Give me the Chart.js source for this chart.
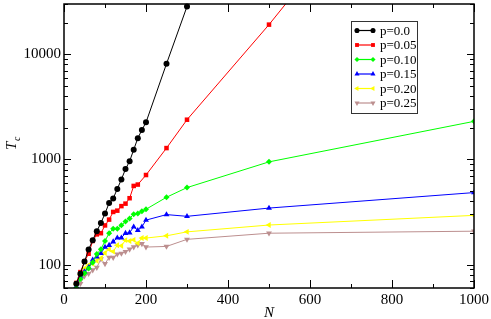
<!DOCTYPE html>
<html>
<head>
<meta charset="utf-8">
<script src="https://cdn.jsdelivr.net/npm/chart.js@4/dist/chart.umd.min.js"></script>
<style>
  html, body { margin: 0; padding: 0; background: #fff; }
  #wrap { width: 491px; height: 319px; position: relative; }
</style>
</head>
<body>
<div id="wrap"><canvas id="chart"></canvas></div>
<script>
// Data
const nShort = [30, 40, 50, 60, 70, 80, 90, 100, 110, 120, 130, 140, 150, 160, 170, 180, 190, 200, 250, 300]
const nRed = [30, 40, 50, 60, 70, 80, 90, 100, 110, 120, 130, 140, 150, 160, 170, 180, 200, 250, 300, 500, 1000]
const nLong = [30, 40, 50, 60, 70, 80, 90, 100, 110, 120, 130, 140, 150, 160, 170, 180, 190, 200, 250, 300, 500, 1000]
const nBrown = [40, 50, 60, 70, 80, 90, 100, 110, 120, 130, 140, 150, 160, 170, 180, 190, 200, 250, 300, 500, 1000]

const tP00 = [66, 82, 107, 139, 171, 208, 249, 306, 385, 426, 525, 646, 809, 961, 1236, 1592, 1905, 2250, 8110, 28400]
const tP05 = [67, 85, 107, 127, 168, 194, 199, 236, 268, 317, 326, 360, 380, 428, 560, 577, 711, 1282, 2385, 19100, 5000000]
const tP10 = [60, 73, 83, 92, 105, 126, 140, 168, 199, 219, 219, 237, 257, 274, 302, 306, 321, 336, 437, 540, 948, 2300]
const tP15 = [62, 78, 86, 94, 111, 119, 128, 147, 153, 165, 180, 180, 199, 201, 229, 212, 229, 265, 299, 288, 345, 484]
const tP20 = [65, 80, 92, 99, 102, 109, 115, 129, 140, 133, 153, 151, 171, 168, 172, 160, 179, 179, 188, 205, 238, 294]
const tP25 = [66, 78, 82, 89, 94, 113, 102, 117, 117, 126, 128, 133, 140, 147, 153, 158, 147, 149, 174, 199, 208]

const seriesLabels = ['p=0.0', 'p=0.05', 'p=0.10', 'p=0.15', 'p=0.20', 'p=0.25']
const seriesColors = ['#000000', '#ff0000', '#00ff00', '#0000ff', '#ffff00', '#bc8f8f']

const xTicks = [0, 200, 400, 600, 800, 1000]
const yTicks = [100, 1000, 10000]

const SERIF = '"Liberation Serif", "DejaVu Serif", serif'

function pts(xs, ys) {
    return xs.map((x, i) => ({ x: x, y: ys[i] }))
}

function makeSet(i, data, style, size, rot, extra) {
    return Object.assign({
        label: seriesLabels[i],
        data: data,
        borderColor: seriesColors[i],
        backgroundColor: seriesColors[i],
        borderWidth: 1,
        pointStyle: style,
        pointRadius: size,
        pointRotation: rot,
        pointBorderWidth: 0,
        tension: 0
    }, extra || {})
}

const datasets = [
    makeSet(0, pts(nShort, tP00), 'circle', 3, 0, { clip: 6 }),
    makeSet(1, pts(nRed, tP05), 'rect', 3.2, 0),
    makeSet(2, pts(nLong, tP10), 'rectRot', 3, 0),
    makeSet(3, pts(nLong, tP15), 'triangle', 3.4, 0),
    makeSet(4, pts(nLong, tP20), 'triangle', 3.4, -90),
    makeSet(5, pts(nBrown, tP25), 'triangle', 3.4, 180)
]

// Inward ticks on all four sides, axis titles and boxed legend
const framePlugin = {
    id: 'frame',
    afterDatasetsDraw(chart) {
        const ctx = chart.ctx
        const a = chart.chartArea
        const xs = chart.scales.x
        const ys = chart.scales.y
        ctx.save()
        ctx.strokeStyle = '#000'
        ctx.lineWidth = 1

        // x ticks
        for (let v = 0; v <= 1000; v += 100) {
            const px = Math.round(xs.getPixelForValue(v)) + 0.5
            const len = v % 200 === 0 ? 8 : 4
            ctx.beginPath()
            ctx.moveTo(px, a.bottom); ctx.lineTo(px, a.bottom - len)
            ctx.moveTo(px, a.top); ctx.lineTo(px, a.top + len)
            ctx.stroke()
        }
        // y ticks (log)
        for (let dec = 10; dec <= 100000; dec *= 10) {
            for (let m = 1; m < 10; m++) {
                const v = dec * m
                if (v < ys.min || v > ys.max) continue
                const py = Math.round(ys.getPixelForValue(v)) + 0.5
                const len = m === 1 ? 7 : 4
                ctx.beginPath()
                ctx.moveTo(a.left, py); ctx.lineTo(a.left + len, py)
                ctx.moveTo(a.right, py); ctx.lineTo(a.right - len, py)
                ctx.stroke()
            }
        }
        // frame
        ctx.lineWidth = 1.5
        ctx.strokeRect(a.left, a.top, a.right - a.left, a.bottom - a.top)

        // axis titles
        ctx.fillStyle = '#000'
        ctx.font = 'italic 15px ' + SERIF
        ctx.textAlign = 'center'
        ctx.textBaseline = 'alphabetic'
        ctx.fillText('N', (a.left + a.right) / 2, 317)

        ctx.translate(16, 150)
        ctx.rotate(-Math.PI / 2)
        ctx.textAlign = 'left'
        ctx.fillText('T', 0, 0)
        ctx.font = 'italic 10px ' + SERIF
        ctx.fillText('c', 9, 4)
        ctx.restore()

        // legend
        ctx.save()
        const bx = 351, by = 21, bw = 66, bh = 92
        ctx.fillStyle = '#fff'
        ctx.fillRect(bx, by, bw, bh)
        ctx.strokeStyle = '#333'
        ctx.lineWidth = 1
        ctx.strokeRect(bx + 0.5, by + 0.5, bw, bh)
        ctx.font = '13px ' + SERIF
        ctx.textBaseline = 'middle'
        ctx.textAlign = 'left'
        chart.data.datasets.forEach((ds, i) => {
            const y = 30.5 + i * 14.5
            ctx.strokeStyle = ds.borderColor
            ctx.lineWidth = 1.2
            ctx.beginPath()
            ctx.moveTo(356, y); ctx.lineTo(374, y)
            ctx.stroke()
            const opts = { pointStyle: ds.pointStyle, radius: ds.pointRadius * 0.85, rotation: ds.pointRotation, borderWidth: 0 }
            ctx.fillStyle = ds.backgroundColor
            ctx.strokeStyle = ds.borderColor
            Chart.helpers.drawPoint(ctx, opts, 357, y)
            Chart.helpers.drawPoint(ctx, opts, 373, y)
            ctx.fillStyle = '#000'
            ctx.fillText(ds.label, 380, y + 1)
        })
        ctx.restore()
    }
}

new Chart(document.getElementById('chart'), {
    type: 'line',
    data: { datasets: datasets },
    options: {
        responsive: true,
        maintainAspectRatio: false,
        animation: false,
        layout: { padding: { top: 2, right: 17, left: 0, bottom: 0 } },
        plugins: {
            legend: { display: false },
            tooltip: { enabled: false }
        },
        scales: {
            x: {
                type: 'linear',
                min: 0,
                max: 1000,
                afterBuildTicks: s => { s.ticks = xTicks.map(v => ({ value: v })) },
                afterFit: s => { s.height = 31; s.paddingLeft = 0; s.paddingRight = 0 },
                grid: { display: false, drawTicks: false },
                border: { display: false },
                ticks: {
                    color: '#000',
                    font: { family: SERIF, size: 15 },
                    padding: 3,
                    maxRotation: 0,
                    autoSkip: false,
                    callback: v => String(v)
                }
            },
            y: {
                type: 'logarithmic',
                min: 60,
                max: 30000,
                afterBuildTicks: s => { s.ticks = yTicks.map(v => ({ value: v })) },
                afterFit: s => { s.width = 64; s.paddingTop = 0; s.paddingBottom = 0 },
                grid: { display: false, drawTicks: false },
                border: { display: false },
                ticks: {
                    color: '#000',
                    font: { family: SERIF, size: 15 },
                    padding: 3,
                    autoSkip: false,
                    callback: v => String(v)
                }
            }
        }
    },
    plugins: [framePlugin]
})
</script>
</body>
</html>
